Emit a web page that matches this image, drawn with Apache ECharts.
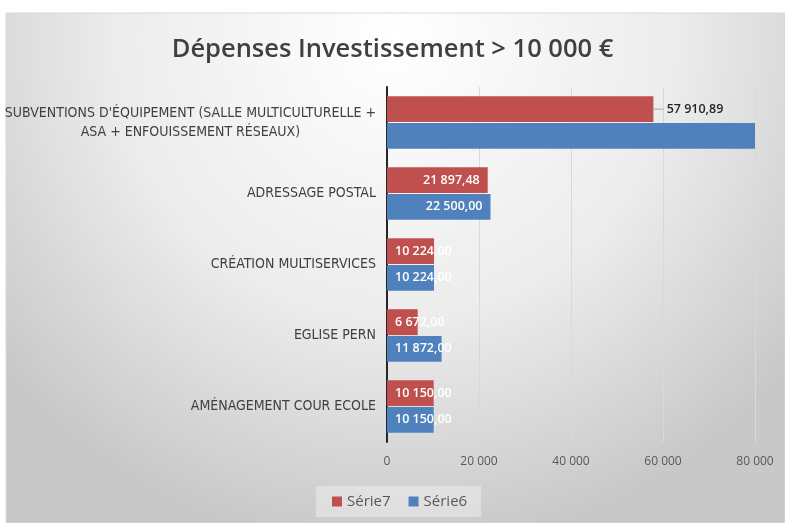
<!DOCTYPE html>
<html>
<head>
<meta charset="utf-8">
<script src="https://cdn.jsdelivr.net/npm/echarts@6/dist/echarts.min.js"></script>
<style>
    html, body {margin: 0; padding: 0; background: #fff;}
    #main {width: 785px; height: 523px;}
</style>
</head>
<body>
<div id="main"></div>
<script>
const categories = [
    "SUBVENTIONS D'ÉQUIPEMENT (SALLE MULTICULTURELLE +\nASA + ENFOUISSEMENT RÉSEAUX)",
    'ADRESSAGE POSTAL',
    'CRÉATION MULTISERVICES',
    'EGLISE PERN',
    'AMÉNAGEMENT COUR ECOLE'
];
const serie7 = [57910.89, 21897.48, 10224.00, 6672.00, 10150.00];
const serie6 = [95000.00, 22500.00, 10224.00, 11872.00, 10150.00];
const xTicks = [0, 20000, 40000, 60000, 80000];

const RED = '#c0504d';
const BLUE = '#4f81bd';
const AXIS_MAX = xTicks[xTicks.length - 1];
const CAT_FONT = "'Liberation Sans Narrow', 'DejaVu Sans Condensed', Roboto, sans-serif";

// format "57 910,89"
function frNum(v, dec) {
    let s = v.toFixed(dec);
    let parts = s.split('.');
    let ip = parts[0].replace(/\B(?=(\d{3})+(?!\d))/g, ' ');
    return dec > 0 ? ip + ',' + parts[1] : ip;
}

function buildData(values, outsideIdx) {
    return values.map(function (v, i) {
        let item = {value: v, label: {}};
        if (v > AXIS_MAX) {
            item.label.show = false;
        } else if (i === outsideIdx) {
            item.label = {
                position: 'right',
                distance: 0,
                color: '#262626',
                formatter: function (p) {
                    return '{l|}{v| ' + frNum(p.value, 2) + '}';
                }
            };
        } else if (v < 15000) {
            item.label.position = 'insideLeft';
        } else {
            item.label.position = 'insideRight';
        }
        return item;
    });
}

let myChart = echarts.init(document.getElementById('main'));

let labelStyle = {
    show: true,
    color: '#fff',
    fontFamily: 'Open Sans',
    fontWeight: 600,
    fontSize: 12.5,
    distance: 8,
    formatter: function (p) {
        return frNum(p.value, 2);
    },
    rich: {
        l: {width: 10, height: 1, backgroundColor: '#a6a6a6'},
        v: {color: '#262626', fontFamily: 'Open Sans', fontWeight: 600, fontSize: 12.5}
    }
};

let option = {
    animation: false,
    graphic: [{
        type: 'rect',
        silent: true,
        z: -10,
        shape: {x: 6, y: 13, width: 779, height: 510},
        style: {
            fill: new echarts.graphic.RadialGradient(0.5, 0.05, 1.0, [
                {offset: 0, color: '#ffffff'},
                {offset: 0.55, color: '#ececec'},
                {offset: 1, color: '#c8c8c8'}
            ]),
            stroke: '#d9d9d9'
        }
    }],
    title: {
        text: 'Dépenses Investissement > 10 000 €',
        left: 'center',
        top: 32,
        textStyle: {
            fontFamily: 'Open Sans',
            fontSize: 25.5,
            fontWeight: 600,
            color: '#404040'
        }
    },
    legend: {
        left: 316,
        top: 486,
        padding: [8, 14, 8, 16],
        backgroundColor: 'rgba(255,255,255,0.35)',
        itemWidth: 10,
        itemHeight: 10,
        itemGap: 18,
        icon: 'rect',
        textStyle: {fontFamily: 'Open Sans', fontSize: 15, color: '#595959'},
        data: ['Série7', 'Série6']
    },
    grid: {left: 387, right: 30, top: 87, bottom: 81, outerBoundsMode: 'none', containLabel: false},
    xAxis: {
        type: 'value',
        min: 0,
        max: AXIS_MAX,
        interval: xTicks[1] - xTicks[0],
        axisLine: {show: false},
        axisTick: {show: false},
        splitLine: {lineStyle: {color: '#d9d9d9'}},
        axisLabel: {
            margin: 14,
            fontFamily: 'Open Sans',
            fontSize: 12,
            color: '#595959',
            formatter: function (v) {
                return frNum(v, 0);
            }
        }
    },
    yAxis: {
        type: 'category',
        inverse: true,
        data: categories,
        axisLine: {lineStyle: {color: '#262626', width: 2}},
        axisTick: {show: false},
        axisLabel: {
            margin: 11,
            fontFamily: CAT_FONT,
            fontSize: 14,
            color: '#404040',
            formatter: function (v) {
                return v.split('\n').map(function (s) {
                    return '{c|' + s + '}';
                }).join('\n');
            },
            rich: {
                c: {align: 'center', fontFamily: CAT_FONT, fontSize: 14, color: '#404040', lineHeight: 19}
            }
        }
    },
    series: [
        {
            name: 'Série7',
            type: 'bar',
            data: buildData(serie7, 0),
            itemStyle: {color: RED},
            barGap: '3%',
            barCategoryGap: '26%',
            label: labelStyle
        },
        {
            name: 'Série6',
            type: 'bar',
            data: buildData(serie6, -1),
            itemStyle: {color: BLUE},
            barGap: '3%',
            barCategoryGap: '26%',
            label: labelStyle
        }
    ]
};

myChart.setOption(option);
</script>
</body>
</html>
